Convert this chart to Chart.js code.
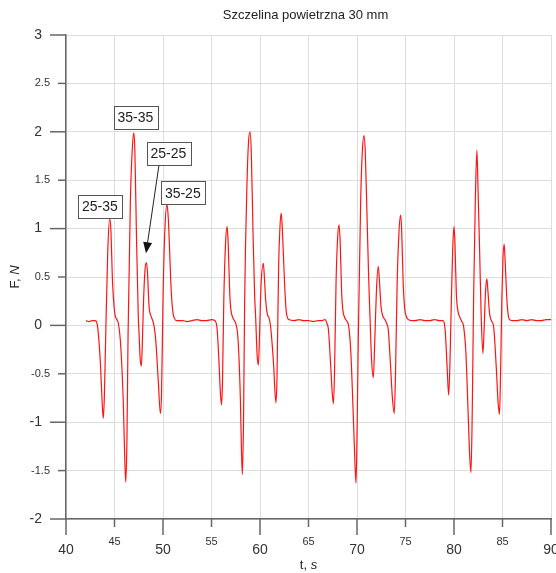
<!DOCTYPE html>
<html>
<head>
<meta charset="utf-8">
<script src="https://cdn.jsdelivr.net/npm/chart.js@4"></script>
<style>
  body { margin: 0; background: #fff; }
  canvas { display: block; }
</style>
</head>
<body>
<canvas id="myChart" width="556" height="573"></canvas>
<script>
// time, s
var times = [
  42.05, 42.4, 42.7, 43.0, 43.2, 43.35, 43.56, 43.72, 43.84, 43.95, 44.1, 44.3, 44.5, 44.62, 44.8, 44.95,
  45.07, 45.25, 45.4, 45.6, 45.9, 46.05, 46.16, 46.28, 46.4, 46.64, 46.85, 46.99, 47.1, 47.26, 47.45,
  47.53, 47.65, 47.77, 47.88, 48.0, 48.15, 48.29, 48.4, 48.56, 48.75, 48.97, 49.1, 49.25, 49.5, 49.73,
  49.85, 50.0, 50.2, 50.41, 50.55, 50.68, 50.85, 51.03, 51.2, 51.37,
  52.0, 52.5, 53.0, 53.5, 54.0, 54.5, 55.0, 55.34,
  55.58, 55.79, 55.92, 56.03, 56.13, 56.27, 56.45, 56.61, 56.72, 56.88, 57.0, 57.16, 57.35, 57.5,
  57.74, 57.98, 58.08, 58.18, 58.3, 58.42, 58.66, 58.82, 58.97, 59.1, 59.28, 59.45, 59.55, 59.7,
  59.83, 59.95, 60.1, 60.34, 60.45, 60.58, 60.75, 60.92, 61.05, 61.16, 61.4, 61.64, 61.75, 61.92,
  62.05, 62.19, 62.3, 62.53, 62.7, 62.98,
  63.5, 64.0, 64.5, 65.0, 65.5, 66.0, 66.4, 66.71,
  66.9, 67.05, 67.29, 67.45, 67.57, 67.68, 67.84, 68.0, 68.15, 68.27, 68.42, 68.55, 68.7, 68.9,
  69.11, 69.35, 69.62, 69.78, 69.9, 70.02, 70.14, 70.38, 70.55, 70.72, 70.85, 70.99, 71.2, 71.34,
  71.5, 71.68, 71.82, 72.0, 72.19, 72.32, 72.47, 72.65, 72.88, 73.05, 73.22, 73.46, 73.65, 73.84,
  73.97, 74.14, 74.32, 74.49, 74.6, 74.76, 74.92, 75.1, 75.3, 75.62,
  76.0, 76.5, 77.0, 77.5, 78.0, 78.5, 78.87,
  79.0, 79.11, 79.3, 79.45, 79.58, 79.73, 79.87, 80.0, 80.1, 80.24, 80.4, 80.58, 80.8, 80.99,
  81.23, 81.47, 81.62, 81.75, 81.88, 82.02, 82.2, 82.36, 82.48, 82.64, 82.8, 82.98, 83.1, 83.25,
  83.39, 83.5, 83.66, 83.85, 84.08, 84.35, 84.55, 84.69, 84.8, 84.93, 85.05, 85.17, 85.28, 85.45,
  85.6, 85.72,
  86.0, 86.5, 87.0, 87.5, 88.0, 88.5, 89.0, 89.5, 90.0
];

// force, N
var force = [
  0.05, 0.04, 0.05, 0.05, 0.02, -0.1, -0.42, -0.78, -0.96, -0.75, -0.08, 0.75, 1.1, 1.0, 0.44, 0.2,
  0.1, 0.06, 0.02, -0.15, -0.77, -1.35, -1.62, -1.2, -0.08, 1.3, 1.85, 1.99, 1.8, 0.95, 0.1,
  -0.08, -0.35, -0.42, -0.15, 0.27, 0.58, 0.65, 0.55, 0.2, 0.1, 0.04, -0.02, -0.15, -0.55, -0.91,
  -0.7, 0.27, 1.0, 1.25, 1.1, 0.78, 0.35, 0.13, 0.07, 0.05,
  0.05, 0.04, 0.05, 0.06, 0.05, 0.05, 0.06, 0.05,
  -0.04, -0.42, -0.7, -0.82, -0.6, 0.27, 0.85, 1.02, 0.85, 0.33, 0.16, 0.09, 0.05, 0.02,
  -0.15, -0.77, -1.25, -1.54, -1.0, 0.27, 1.47, 1.9, 2.0, 1.8, 0.96, 0.3, 0.09, -0.3,
  -0.41, -0.1, 0.4, 0.64, 0.5, 0.27, 0.12, 0.08, 0.02, -0.08, -0.4, -0.8, -0.55, 0.61,
  1.0, 1.16, 1.0, 0.44, 0.15, 0.06,
  0.05, 0.06, 0.05, 0.05, 0.04, 0.05, 0.05, 0.06,
  0.02, -0.04, -0.42, -0.7, -0.81, -0.5, 0.44, 0.9, 1.04, 0.85, 0.33, 0.15, 0.09, 0.05,
  0.01, -0.25, -0.94, -1.4, -1.63, -1.0, -0.08, 1.3, 1.8, 1.96, 1.8, 1.3, 0.5, 0.09,
  -0.35, -0.54, -0.2, 0.35, 0.61, 0.45, 0.2, 0.1, 0.06, 0.02, -0.04, -0.42, -0.75, -0.91,
  -0.5, 0.44, 0.95, 1.14, 1.0, 0.44, 0.17, 0.09, 0.06, 0.05,
  0.05, 0.06, 0.05, 0.05, 0.06, 0.05, 0.05,
  0.02, -0.08, -0.45, -0.72, -0.4, 0.27, 0.8, 1.02, 0.85, 0.33, 0.15, 0.09, 0.04, -0.01,
  -0.29, -0.94, -1.35, -1.52, -0.9, 0.27, 1.3, 1.81, 1.4, 0.78, 0.1, -0.29, -0.05, 0.35,
  0.48, 0.35, 0.13, 0.05, -0.01, -0.42, -0.8, -0.92, -0.5, 0.27, 0.7, 0.84, 0.65, 0.27,
  0.1, 0.06,
  0.05, 0.05, 0.06, 0.05, 0.06, 0.05, 0.05, 0.06, 0.06
];

// annotation boxes (text and data position of box centre)
var labelTexts = ['25-35', '35-35', '25-25', '35-25'];
var labelT = [43.5, 47.16, 50.56, 52.04];
var labelF = [1.23, 2.15, 1.78, 1.37];

var xTicks = [40, 45, 50, 55, 60, 65, 70, 75, 80, 85, 90];
var yTicks = [-2, -1.5, -1, -0.5, 0, 0.5, 1, 1.5, 2, 2.5, 3];

var fontName = "'Liberation Sans', Arial, sans-serif";

var points = times.map(function(t, i) {
  return {x: t, y: force[i]};
});

// draws ticks, tick labels, titles and the annotations
var decorPlugin = {
  id: 'decor',
  afterDraw: function(chart) {
    var ctx = chart.ctx;
    var xs = chart.scales.x;
    var ys = chart.scales.y;
    var area = chart.chartArea;

    ctx.save();
    ctx.strokeStyle = '#666';
    ctx.lineWidth = 1.5;
    ctx.fillStyle = '#333';

    // y ticks
    ctx.textAlign = 'right';
    ctx.textBaseline = 'middle';
    yTicks.forEach(function(v) {
      var py = ys.getPixelForValue(v);
      var major = Math.abs(v - Math.round(v)) < 1e-6;
      var len = major ? 16 : 8;
      ctx.beginPath();
      ctx.moveTo(area.left - len, py);
      ctx.lineTo(area.left, py);
      ctx.stroke();
      ctx.font = (major ? 14 : 11) + 'px ' + fontName;
      ctx.fillText(String(v), area.left - len - 8, py);
    });

    // x ticks
    ctx.textAlign = 'center';
    xTicks.forEach(function(v) {
      var px = xs.getPixelForValue(v);
      var major = v % 10 === 0;
      var len = major ? 16 : 8;
      ctx.beginPath();
      ctx.moveTo(px, area.bottom);
      ctx.lineTo(px, area.bottom + len);
      ctx.stroke();
      ctx.font = (major ? 14 : 11) + 'px ' + fontName;
      ctx.fillText(String(v), px, area.bottom + (major ? 31 : 23));
    });

    // title
    ctx.fillStyle = '#222';
    ctx.font = '13px ' + fontName;
    ctx.fillText('Szczelina powietrzna 30 mm', (area.left + area.right) / 2 - 3, 15);

    // x axis title "t, s"
    ctx.font = '13px ' + fontName;
    var w1 = ctx.measureText('t, ').width;
    ctx.font = 'italic 13px ' + fontName;
    var w2 = ctx.measureText('s').width;
    var cx = (area.left + area.right) / 2;
    ctx.textAlign = 'left';
    ctx.font = '13px ' + fontName;
    ctx.fillText('t, ', cx - (w1 + w2) / 2, 565);
    ctx.font = 'italic 13px ' + fontName;
    ctx.fillText('s', cx - (w1 + w2) / 2 + w1, 565);

    // y axis title "F, N"
    ctx.save();
    ctx.translate(15, (area.top + area.bottom) / 2);
    ctx.rotate(-Math.PI / 2);
    ctx.font = '13px ' + fontName;
    var v1 = ctx.measureText('F, ').width;
    ctx.font = 'italic 13px ' + fontName;
    var v2 = ctx.measureText('N').width;
    ctx.font = '13px ' + fontName;
    ctx.fillText('F, ', -(v1 + v2) / 2, 0);
    ctx.font = 'italic 13px ' + fontName;
    ctx.fillText('N', -(v1 + v2) / 2 + v1, 0);
    ctx.restore();

    // arrow pointing at the 25-25 peak
    var ax0 = xs.getPixelForValue(49.59), ay0 = ys.getPixelForValue(1.66);
    var ax1 = xs.getPixelForValue(48.25), ay1 = ys.getPixelForValue(0.745);
    var ang = Math.atan2(ay1 - ay0, ax1 - ax0);
    ctx.strokeStyle = '#222';
    ctx.lineWidth = 1;
    ctx.beginPath();
    ctx.moveTo(ax0, ay0);
    ctx.lineTo(ax1 - 8 * Math.cos(ang), ay1 - 8 * Math.sin(ang));
    ctx.stroke();
    ctx.fillStyle = '#111';
    ctx.beginPath();
    ctx.moveTo(ax1, ay1);
    ctx.lineTo(ax1 - 11 * Math.cos(ang) + 4.5 * Math.sin(ang), ay1 - 11 * Math.sin(ang) - 4.5 * Math.cos(ang));
    ctx.lineTo(ax1 - 11 * Math.cos(ang) - 4.5 * Math.sin(ang), ay1 - 11 * Math.sin(ang) + 4.5 * Math.cos(ang));
    ctx.closePath();
    ctx.fill();

    // label boxes
    ctx.font = '14px ' + fontName;
    ctx.textAlign = 'center';
    ctx.textBaseline = 'middle';
    labelTexts.forEach(function(txt, i) {
      var px = xs.getPixelForValue(labelT[i]);
      var py = ys.getPixelForValue(labelF[i]);
      var bw = ctx.measureText(txt).width + 8;
      var bh = 23;
      ctx.fillStyle = '#fff';
      ctx.fillRect(px - bw / 2, py - bh / 2, bw, bh);
      ctx.strokeStyle = '#555';
      ctx.lineWidth = 1;
      ctx.strokeRect(Math.round(px - bw / 2) + 0.5, Math.round(py - bh / 2) + 0.5, Math.round(bw), bh);
      ctx.fillStyle = '#222';
      ctx.fillText(txt, px, py + 1);
    });

    ctx.restore();
  }
};

var ctx = document.getElementById('myChart');
var myChart = new Chart(ctx, {
  type: 'line',
  data: {
    datasets: [
      {
        data: points,
        borderColor: 'rgb(255, 20, 20)',
        borderWidth: 1.2,
        pointRadius: 0,
        fill: false,
        cubicInterpolationMode: 'monotone'
      }
    ]
  },
  options: {
    responsive: false,
    animation: false,
    layout: {
      padding: {left: 66, right: 5, top: 35, bottom: 54}
    },
    plugins: {
      legend: {display: false},
      tooltip: {enabled: false}
    },
    scales: {
      x: {
        type: 'linear',
        min: 40,
        max: 90,
        afterBuildTicks: function(scale) {
          scale.ticks = xTicks.map(function(v) { return {value: v}; });
        },
        ticks: {display: false},
        grid: {color: '#dedede', drawTicks: false},
        border: {display: true, color: '#666', width: 1.5}
      },
      y: {
        type: 'linear',
        min: -2,
        max: 3,
        afterBuildTicks: function(scale) {
          scale.ticks = yTicks.map(function(v) { return {value: v}; });
        },
        ticks: {display: false},
        grid: {color: '#dedede', drawTicks: false},
        border: {display: true, color: '#666', width: 1.5}
      }
    }
  },
  plugins: [decorPlugin]
});
</script>
</body>
</html>
